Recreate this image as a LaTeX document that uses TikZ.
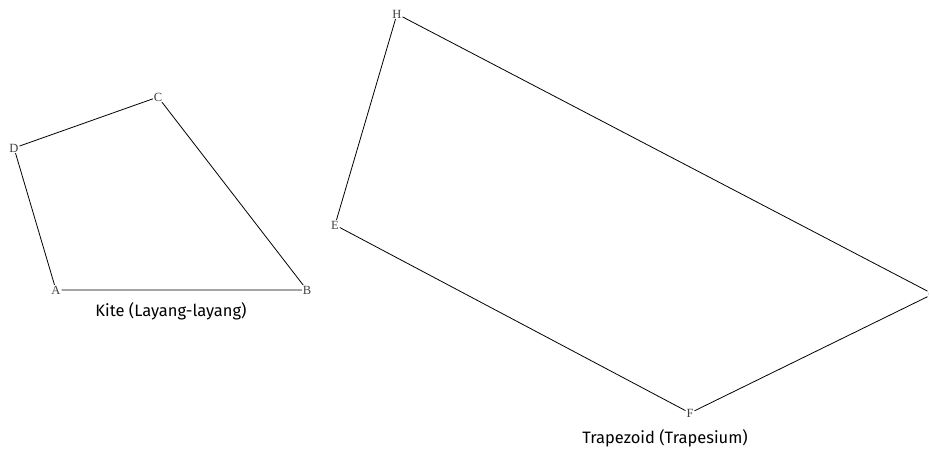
\documentclass[tikz,border=0pt]{standalone}
\usepackage{fontspec}
\setmainfont{Liberation Serif}
\newfontfamily\capfont{Fira Sans}
\begin{document}
\begin{tikzpicture}[x=1pt,y=-1pt,
  vtx/.style={inner sep=0.8pt,font=\fontsize{12.5}{12.5}\selectfont, text=black!75},
  edge/.style={draw=black, line width=0.8pt},
  caption/.style={font=\capfont\fontsize{16.5}{16.5}\selectfont, inner sep=0pt}]
\useasboundingbox (0,0) rectangle (929,451);
% Kite
\node[vtx] (A) at (56,290) {A};
\node[vtx] (B) at (307,290) {B};
\node[vtx] (C) at (158,97) {C};
\node[vtx] (D) at (14,148) {D};
\draw[edge] (A) -- (B) -- (C) -- (D) -- (A);
\node[caption] (k) at (171,311) {Kite (Layang-layang)};
% Trapezoid
\node[vtx] (H) at (397,14) {H};
\node[vtx] (E) at (335,225) {E};
\node[vtx] (F) at (690,413) {F};
\node[vtx] (G) at (933,294) {G};
\draw[edge] (E) -- (F) -- (G) -- (H) -- (E);
\node[caption] (t) at (665,438) {Trapezoid (Trapesium)};
\end{tikzpicture}
\end{document}
